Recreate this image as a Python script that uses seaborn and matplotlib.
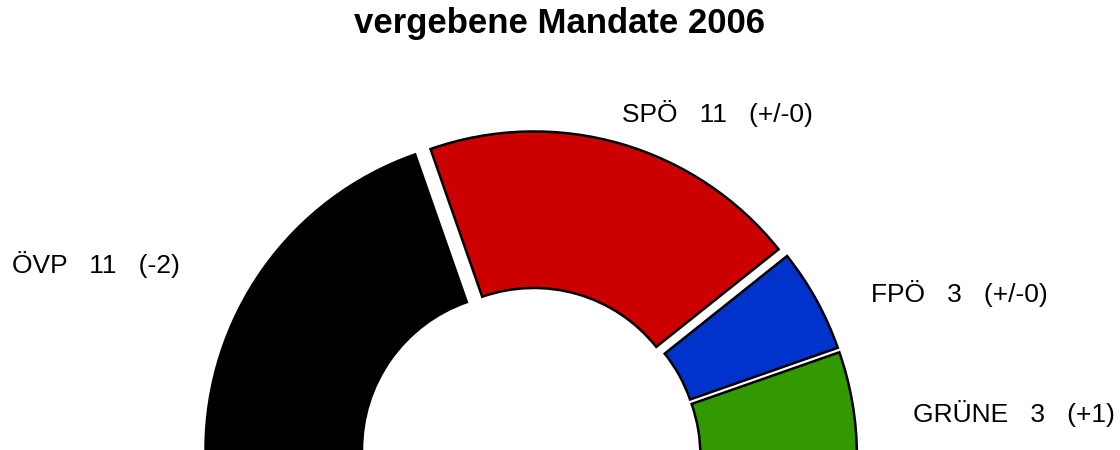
import seaborn as sns
import matplotlib
matplotlib.use('Agg')
import matplotlib.pyplot as plt

# Sitzverteilung 2006
parteien = ['ÖVP', 'SPÖ', 'FPÖ', 'GRÜNE']
mandate = [11, 11, 3, 3]
differenz = ['(-2)', '(+/-0)', '(+/-0)', '(+1)']
farben = ['#000000', '#cc0000', '#0033cc', '#339900']

# label anchor (pixel, from top-left), left aligned on baseline
label_pos = [(12, 273), (622, 122), (871, 302), (913, 422)]

sns.set_theme(style='white')
plt.rcParams['font.family'] = ['Liberation Sans', 'DejaVu Sans']
plt.rcParams['text.color'] = 'black'

W, H = 1120, 450
fig = plt.figure(figsize=(W / 100, H / 100), dpi=100)
ax = fig.add_axes([0, 0, 1, 1])

# pie centre sits slightly below the image, radius in pixels
cx, cy, R = 530, 458, 313
total = sum(mandate)
werte = mandate + [total]          # hidden lower half
explode = [0.045] * len(mandate) + [0]

wedges, _ = ax.pie(
    werte,
    startangle=180,
    counterclock=False,
    explode=explode,
    colors=farben + ['none'],
    wedgeprops={'width': 0.5, 'edgecolor': 'black', 'linewidth': 1.8},
)
wedges[-1].set_edgecolor('none')

ax.set_xlim(-cx / R, (W - cx) / R)
ax.set_ylim((cy - H) / R, cy / R)
ax.set_aspect('equal')
ax.axis('off')

for p, m, d, (x, y) in zip(parteien, mandate, differenz, label_pos):
    fig.text(x / W, 1 - y / H, f'{p}   {m}   {d}',
             ha='left', va='baseline', fontsize=19, color='black')

fig.text(0.5, 1 - 33 / H, 'vergebene Mandate 2006',
         ha='center', va='baseline', fontsize=25, fontweight='bold',
         color='black')

fig.savefig('out.png', dpi=100)
